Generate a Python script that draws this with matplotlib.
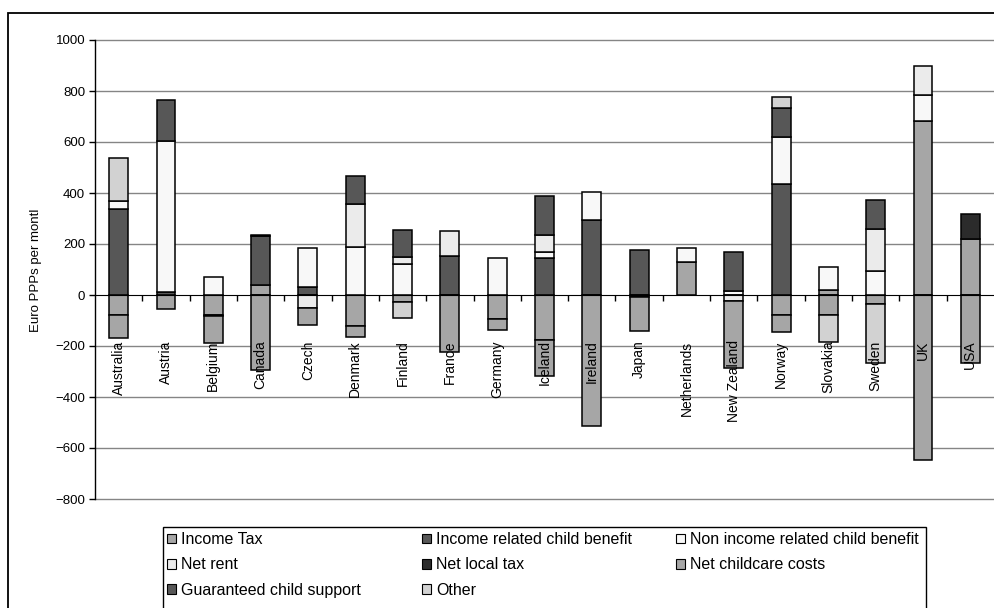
import numpy as np
import matplotlib
matplotlib.use('Agg')
import matplotlib.pyplot as plt
from matplotlib.patches import Patch, Rectangle

plt.rcParams['font.family'] = ['Liberation Sans', 'DejaVu Sans']

# Countries along the x axis
countries = ['Australia', 'Austria', 'Belgium', 'Canada', 'Czech', 'Denmark', 'Finland',
             'France', 'Germany', 'Iceland', 'Ireland', 'Japan', 'Netherlands',
             'New Zealand', 'Norway', 'Slovakia', 'Sweden', 'UK', 'USA']

# Components, Euro PPPs per month
income_tax = [-80, -55, -78, 40, 0, -122, -29, 0, -96, -177, 0, 0, 129, 0, -80, 21, -35, 683, 218]
income_related_cb = [338, 10, 0, 190, 30, 0, 0, 153, 0, 144, 296, 175, 0, 0, 434, 0, 0, 0, 0]
non_income_cb = [30, 595, 72, 0, 155, 189, 122, 0, 144, 26, 108, 0, 55, 14, 184, 87, 93, 100, 0]
net_rent = [0, 0, 0, 0, -51, 169, 26, 97, 0, 65, 0, 0, 0, -25, 0, 0, 167, 117, 0]
net_local_tax = [0, 0, -5, 6, 0, 0, 0, 0, 0, 0, 0, -8, 0, 0, 0, 0, 0, 0, 100]
net_childcare = [-90, 0, -107, -295, -67, -43, 0, -224, -42, -140, -514, -135, 0, -260, -66, -77, 0, -648, -265]
guaranteed_cs = [0, 160, 0, 0, 0, 107, 107, 0, 0, 155, 0, 0, 0, 155, 117, 0, 113, 0, 0]
other = [170, 0, 0, 0, 0, 0, -62, 0, 0, 0, 0, 0, 0, 0, 41, -106, -230, 0, 0]

series_names = ['Income Tax', 'Income related child benefit', 'Non income related child benefit',
                'Net rent', 'Net local tax', 'Net childcare costs', 'Guaranteed child support', 'Other']
series_values = [income_tax, income_related_cb, non_income_cb, net_rent,
                 net_local_tax, net_childcare, guaranteed_cs, other]
series_colors = ['#a6a6a6', '#575757', '#f8f8f8', '#ebebeb', '#2b2b2b', '#a6a6a6', '#575757', '#d2d2d2']

fig = plt.figure(figsize=(9.94, 6.08), dpi=100)
ax = fig.add_axes([95 / 994, 1 - 499 / 608, 1 - 95 / 994, (499 - 40) / 608])

x = np.arange(len(countries))
pos_bottom = np.zeros(len(countries))
neg_bottom = np.zeros(len(countries))

# stack positives upward and negatives downward, like the spreadsheet does
for vals, col in zip(series_values, series_colors):
    vals = np.array(vals, dtype=float)
    for i, v in enumerate(vals):
        if v == 0:
            continue
        if v > 0:
            ax.bar(x[i], v, bottom=pos_bottom[i], width=0.4, color=col,
                   edgecolor='black', linewidth=1.1, zorder=3)
            pos_bottom[i] += v
        else:
            ax.bar(x[i], v, bottom=neg_bottom[i], width=0.4, color=col,
                   edgecolor='black', linewidth=1.1, zorder=3)
            neg_bottom[i] += v

ax.set_xlim(-0.5, len(countries) - 0.5)
ax.set_ylim(-800, 1000)
ax.set_yticks(np.arange(-800, 1001, 200))
ax.tick_params(axis='y', labelsize=9.5, length=4, width=1, pad=3)

# horizontal gridlines
for yv in np.arange(-800, 1001, 200):
    if yv != 0:
        ax.axhline(yv, color='#858585', linewidth=1, zorder=1, clip_on=False)

ax.spines['top'].set_visible(False)
ax.spines['right'].set_visible(False)
ax.spines['bottom'].set_position(('data', 0))
ax.spines['bottom'].set_zorder(4)
ax.spines['left'].set_linewidth(1)

# tick marks between categories, labels written separately
ax.set_xticks(np.arange(0.5, len(countries) - 1, 1))
ax.set_xticklabels([])
ax.tick_params(axis='x', length=4, width=1, direction='out')

for i, name in enumerate(countries):
    ax.text(x[i], -178, name, rotation=90, ha='center', va='top', fontsize=10, zorder=5)

fig.text(36 / 994, 1 - 270 / 608, 'Euro PPPs per montl', rotation=90, ha='center',
         va='center', fontsize=9.5)

# outer chart border, cut off on right and bottom
fig.patches.append(Rectangle((8 / 994, -0.1), 1.2, 1 - 13 / 608 + 0.1, fill=False,
                             edgecolor='black', linewidth=1.3, transform=fig.transFigure,
                             clip_on=False))

# legend box, also cut off at the bottom
fig.patches.append(Rectangle((163 / 994, -0.1), (926 - 163) / 994, 1 - 527 / 608 + 0.1,
                             fill=False, edgecolor='black', linewidth=1,
                             transform=fig.transFigure, clip_on=False))

handles = [Patch(facecolor=c, edgecolor='black', linewidth=0.8) for c in series_colors]
columns = [[0, 3, 6], [1, 4, 7], [2, 5]]
col_x = [167, 422, 676]
for idx, cx in zip(columns, col_x):
    fig.legend([handles[k] for k in idx], [series_names[k] for k in idx],
               loc='upper left', bbox_to_anchor=(cx / 994, 1 - 532 / 608),
               frameon=False, fontsize=11.5, handlelength=0.55, handleheight=0.55,
               handletextpad=0.35, labelspacing=0.65, borderpad=0, borderaxespad=0)

plt.savefig('out.png', dpi=100)
